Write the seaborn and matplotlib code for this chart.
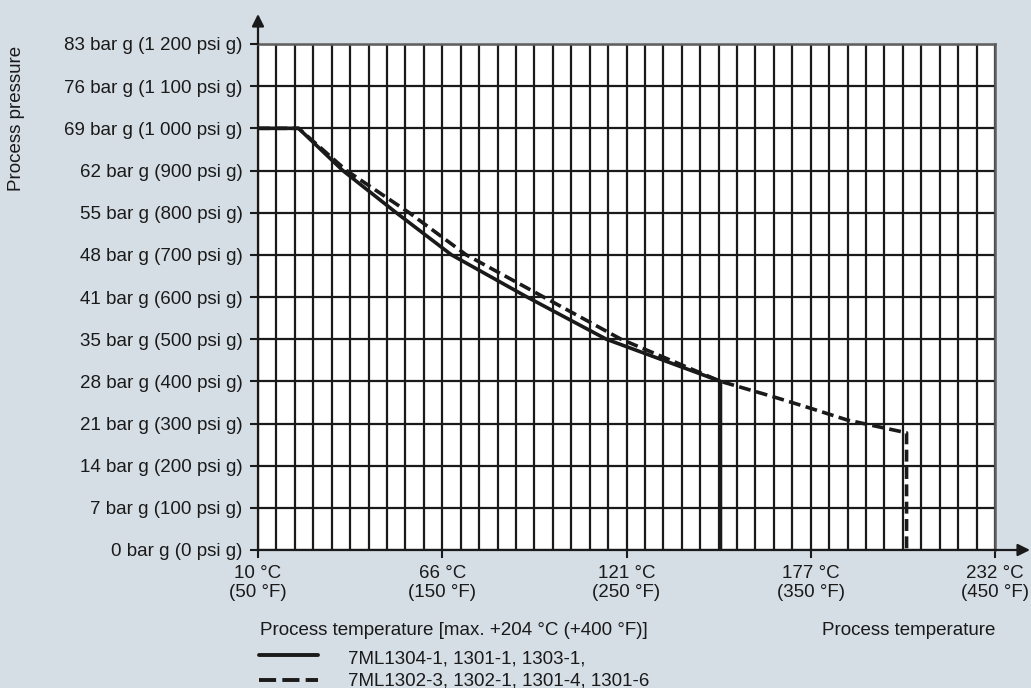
import matplotlib
matplotlib.use("Agg")
import matplotlib.pyplot as plt
from matplotlib.lines import Line2D
from matplotlib.ticker import FixedLocator
import seaborn as sns
import pandas as pd

# ---- data (temperature in °F, pressure in psi g) ----
temp_solid_f = [50, 72, 96, 125, 155, 196, 239, 301, 301]
psi_solid = [1000, 1000, 900, 800, 700, 600, 500, 400, 0]
temp_dashed_f = [50, 72, 98, 132, 163, 205, 247, 301, 330, 350, 370, 402, 402]
psi_dashed = [1000, 1000, 900, 800, 700, 600, 500, 400, 363, 336, 308, 278, 0]
series_labels = ["7ML1304-1, 1301-1, 1303-1,", "7ML1302-3, 1302-1, 1301-4, 1301-6"]

x_ticks_f = [50, 150, 250, 350, 450]
x_tick_labels = ["10 °C\n(50 °F)", "66 °C\n(150 °F)", "121 °C\n(250 °F)",
                 "177 °C\n(350 °F)", "232 °C\n(450 °F)"]
x_grid_f = [60, 70, 80, 90, 100, 110, 120, 130, 140, 160, 170, 180, 190, 200,
            210, 220, 230, 240, 260, 270, 280, 290, 300, 310, 320, 330, 340,
            360, 370, 380, 390, 400, 410, 420, 430, 440]
y_ticks_psi = [0, 100, 200, 300, 400, 500, 600, 700, 800, 900, 1000, 1100, 1200]
y_tick_labels = ["0 bar g (0 psi g)", "7 bar g (100 psi g)", "14 bar g (200 psi g)",
                 "21 bar g (300 psi g)", "28 bar g (400 psi g)", "35 bar g (500 psi g)",
                 "41 bar g (600 psi g)", "48 bar g (700 psi g)", "55 bar g (800 psi g)",
                 "62 bar g (900 psi g)", "69 bar g (1 000 psi g)", "76 bar g (1 100 psi g)",
                 "83 bar g (1 200 psi g)"]

df = pd.concat([
    pd.DataFrame({"temp": temp_solid_f, "psi": psi_solid, "series": series_labels[0]}),
    pd.DataFrame({"temp": temp_dashed_f, "psi": psi_dashed, "series": series_labels[1]}),
], ignore_index=True)

sns.set_theme(style="white")
plt.rcParams["font.family"] = ["Liberation Sans", "DejaVu Sans"]

BG = "#d5dde5"
INK = "#1a1a1a"
FS = 13.5
W, H = 1031, 688

fig = plt.figure(figsize=(W / 100, H / 100), dpi=100, facecolor=BG)
L, R, T, B = 258, 995, 44, 550
ax = fig.add_axes([L / W, 1 - B / H, (R - L) / W, (B - T) / H])
ax.set_facecolor("white")

sns.lineplot(data=df, x="temp", y="psi", hue="series", style="series",
             palette=[INK, INK], dashes={series_labels[0]: "", series_labels[1]: (3.3, 1.5)},
             sort=False, estimator=None, linewidth=2.6, legend=False, ax=ax, zorder=3)

ax.set_xlim(50, 450)
ax.set_ylim(0, 1200)
ax.set_xticks(x_ticks_f)
ax.set_xticklabels(x_tick_labels, fontsize=FS, color=INK, linespacing=1.1)
ax.xaxis.set_minor_locator(FixedLocator(x_grid_f))
ax.set_yticks(y_ticks_psi)
ax.set_yticklabels(y_tick_labels, fontsize=FS, color=INK)
ax.set_xlabel("")
ax.set_ylabel("")

ax.set_axisbelow(True)
ax.grid(which="both", axis="x", color=INK, linewidth=1.6)
ax.grid(which="major", axis="y", color=INK, linewidth=1.6)
ax.tick_params(axis="x", which="major", direction="out", length=6, width=1.5,
               color=INK, pad=5, bottom=True)
ax.tick_params(axis="x", which="minor", length=0)
ax.tick_params(axis="y", which="major", direction="out", length=6, width=1.5,
               color=INK, pad=5, left=True)

for s in ("left", "bottom"):
    ax.spines[s].set_color(INK)
    ax.spines[s].set_linewidth(1.6)
for s in ("top", "right"):
    ax.spines[s].set_color("#5e5e5e")
    ax.spines[s].set_linewidth(1.8)

# axis arrows
ax.annotate("", xy=(0, 1 + 30 / (B - T)), xytext=(0, 1), xycoords="axes fraction",
            arrowprops=dict(arrowstyle="-|>", color=INK, lw=1.6, mutation_scale=18,
                            shrinkA=0, shrinkB=0), annotation_clip=False)
ax.annotate("", xy=((W - 1 - L) / (R - L), 0), xytext=(1, 0), xycoords="axes fraction",
            arrowprops=dict(arrowstyle="-|>", color=INK, lw=1.6, mutation_scale=18,
                            shrinkA=0, shrinkB=0), annotation_clip=False)

# texts
fig.text(17 / W, 1 - 118 / H, "Process pressure", rotation=90, ha="center", va="center",
         fontsize=FS, color=INK)
fig.text(260 / W, 1 - 635 / H, "Process temperature [max. +204 °C (+400 °F)]",
         ha="left", va="baseline", fontsize=FS, color=INK)
fig.text(995 / W, 1 - 635 / H, "Process temperature", ha="right", va="baseline",
         fontsize=FS, color=INK)

# legend
fig.add_artist(Line2D([259 / W, 318 / W], [1 - 654.5 / H] * 2, color=INK, lw=2.8))
fig.add_artist(Line2D([259 / W, 318 / W], [1 - 680 / H] * 2, color=INK, lw=2.8,
                      dashes=(4.4, 1.6)))
fig.text(348 / W, 1 - 663 / H, series_labels[0], ha="left", va="baseline",
         fontsize=FS, color=INK)
fig.text(348 / W, 1 - 686 / H, series_labels[1], ha="left", va="baseline",
         fontsize=FS, color=INK)

fig.savefig("out.png", dpi=100, facecolor=BG)
